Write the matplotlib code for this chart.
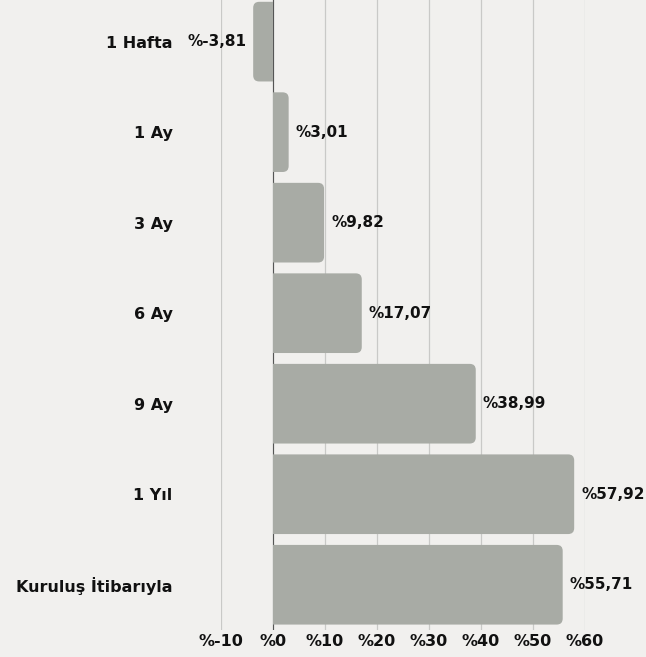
import matplotlib
matplotlib.use("Agg")
import matplotlib.pyplot as plt
from matplotlib.patches import PathPatch
from matplotlib.path import Path

categories = ["1 Hafta", "1 Ay", "3 Ay", "6 Ay", "9 Ay", "1 Yıl", "Kuruluş İtibarıyla"]
values = [-3.81, 3.01, 9.82, 17.07, 38.99, 57.92, 55.71]
value_labels = ["%-3,81", "%3,01", "%9,82", "%17,07", "%38,99", "%57,92", "%55,71"]
xticks = [-10, 0, 10, 20, 30, 40, 50, 60]
xtick_labels = ["%-10", "%0", "%10", "%20", "%30", "%40", "%50", "%60"]

BG = "#f1f0ee"
BAR = "#a8aba5"
TXT = "#111111"
plt.rcParams['font.family'] = ['DejaVu Sans']
FS = 11.5
VFS = 11.0

fig = plt.figure(figsize=(6.46, 6.57), dpi=100, facecolor=BG)
ax = fig.add_axes([221/646, 1 - 630/657, 364/646, 630/657])
ax.set_facecolor(BG)
ax.set_xlim(-10, 60)
ax.set_ylim(6.5, -0.46)

h = 0.88
rx = 6 / 5.2      # x data units per 6 px
ry = 6 / 90.5     # y data units per 6 px


def bar_path(v, yc):
    s = 1 if v >= 0 else -1
    y0, y1 = yc - h/2, yc + h/2
    verts = [(0, y0), (v - s*rx, y0), (v, y0), (v, y0 + ry),
             (v, y1 - ry), (v, y1), (v - s*rx, y1), (0, y1), (0, y0)]
    codes = [Path.MOVETO, Path.LINETO, Path.CURVE3, Path.CURVE3,
             Path.LINETO, Path.CURVE3, Path.CURVE3, Path.LINETO, Path.CLOSEPOLY]
    return Path(verts, codes)


for i, v in enumerate(values):
    ax.add_patch(PathPatch(bar_path(v, i), facecolor=BAR, edgecolor='none', zorder=3))
    if v >= 0:
        ax.annotate(value_labels[i], (v, i), xytext=(5, 0), textcoords='offset points',
                    ha='left', va='center', fontsize=VFS, fontweight='bold', color=TXT,
                    annotation_clip=False)
    else:
        ax.annotate(value_labels[i], (v, i), xytext=(-4.5, 0), textcoords='offset points',
                    ha='right', va='center', fontsize=VFS, fontweight='bold', color=TXT,
                    annotation_clip=False)

for t in xticks:
    ax.axvline(t, color='#c9c9c7', lw=0.9, zorder=1)
ax.axvline(0, color='#555555', lw=0.8, zorder=2)

ax.set_xticks(xticks)
ax.set_xticklabels(xtick_labels, fontsize=FS, fontweight='bold', color=TXT)
ax.set_yticks(range(len(categories)))
ax.set_yticklabels(categories, fontsize=FS, fontweight='bold', color=TXT)
ax.tick_params(axis='both', length=0)
ax.tick_params(axis='y', pad=35)
ax.tick_params(axis='x', pad=3)
for s in ax.spines.values():
    s.set_visible(False)

fig.savefig("out.png", dpi=100, facecolor=BG)
